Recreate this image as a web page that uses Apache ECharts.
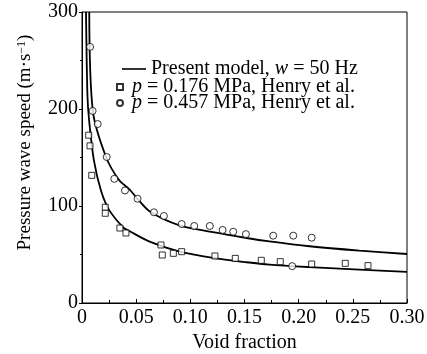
<!DOCTYPE html>
<html>
<head>
<meta charset="utf-8">
<script src="https://cdn.jsdelivr.net/npm/echarts@6/dist/echarts.min.js"></script>
<style>
  html, body { margin: 0; padding: 0; background: #fff; }
  #chart { width: 427px; height: 354px; }
</style>
</head>
<body>
<div id="chart"></div>
<script>
// model curves
const upperX = [0.0067, 0.010, 0.022, 0.034, 0.044, 0.050, 0.063, 0.090, 0.121, 0.152, 0.173, 0.210, 0.256, 0.300];
const upperY = [300, 198, 151, 127, 117, 109, 94, 80, 73, 67, 63.5, 58.5, 54, 50.5];
const lowerX = [0.0037, 0.005, 0.0065, 0.011, 0.0175, 0.025, 0.038, 0.044, 0.063, 0.090, 0.121, 0.152, 0.173, 0.210, 0.256, 0.300];
const lowerY = [300, 215, 189, 147, 116, 96, 78, 74, 63, 53, 46.5, 42, 39.5, 37, 34.5, 32];

// p = 0.176 MPa (squares)
const sqX = [0.0062, 0.0074, 0.009, 0.0215, 0.0215, 0.035, 0.0406, 0.0729, 0.0741, 0.0843, 0.092, 0.1227, 0.1415, 0.1655, 0.183, 0.212, 0.243, 0.264];
const sqY = [173, 162, 131.6, 98.7, 92.5, 77.3, 72.2, 59.8, 49.5, 51.2, 52.9, 48.5, 46, 44, 42.6, 40.2, 40.9, 38.5];

// p = 0.457 MPa (circles)
const ciX = [0.0074, 0.0098, 0.0145, 0.0228, 0.0298, 0.0397, 0.0513, 0.0664, 0.0756, 0.092, 0.1036, 0.118, 0.1298, 0.1396, 0.1513, 0.1765, 0.195, 0.212, 0.194];
const ciY = [264, 198, 184.5, 150.5, 128, 116, 107.5, 93.5, 89.7, 81.4, 79.4, 79.4, 75.3, 73.5, 71, 69.4, 69.4, 67.3, 38];

const xTicks = [0, 0.05, 0.10, 0.15, 0.20, 0.25, 0.30];
const yTicks = [0, 100, 200, 300];

const nameModel = 'Present model';
const nameLow = 'p1';
const nameHigh = 'p2';

const zip = (xs, ys) => xs.map((x, i) => [x, ys[i]]);
const font = 'Liberation Serif';
const legendText = {
  fontFamily: font, fontSize: 20, color: '#000', lineHeight: 15,
  rich: {
    t: { fontFamily: font, fontSize: 20, color: '#000', lineHeight: 15 },
    i: { fontFamily: font, fontSize: 20, color: '#000', lineHeight: 15, fontStyle: 'italic' }
  }
};
const labelFor = n => n === nameModel ? '{t|Present model, }{i|w}{t| = 50 Hz}'
  : n === nameLow ? '{i|p}{t| = 0.176 MPa, Henry et al.}'
  : '{i|p}{t| = 0.457 MPa, Henry et al.}';

const chart = echarts.init(document.getElementById('chart'));
chart.setOption({
  animation: false,
  textStyle: { fontFamily: font, color: '#000' },
  grid: {
    left: 82, right: 20, top: 12, bottom: 51, outerBoundsMode: 'none',
    show: true, borderColor: '#000', borderWidth: 1
  },
  legend: [
    {
      left: 122, top: 59, padding: 0, itemWidth: 24, itemHeight: 8,
      data: [{ name: nameModel, icon: 'path://M0,0H24V1.6H0Z' }],
      formatter: labelFor, textStyle: legendText
    },
    {
      left: 116, top: 77, padding: 0, orient: 'vertical', itemGap: -4, itemWidth: 14, itemHeight: 6,
      data: [
        { name: nameLow, icon: 'path://M0,0H10V10H0Z' },
        { name: nameHigh, icon: 'circle' }
      ],
      formatter: labelFor, textStyle: legendText
    }
  ],
  xAxis: {
    type: 'value', min: 0, max: 0.3, interval: 0.05,
    name: 'Void fraction', nameLocation: 'middle', nameGap: 30,
    nameTextStyle: { fontFamily: font, fontSize: 20, color: '#000' },
    axisLine: { lineStyle: { color: '#000' } },
    axisTick: { inside: true, length: 4, lineStyle: { color: '#000' } },
    minorTick: { show: true, splitNumber: 2, length: 3, lineStyle: { color: '#000' } },
    splitLine: { show: false },
    axisLabel: {
      fontFamily: font, fontSize: 20, color: '#000', margin: 5,
      formatter: v => xTicks.includes(+v.toFixed(2)) ? (v === 0 ? '0' : v.toFixed(2)) : ''
    }
  },
  yAxis: {
    type: 'value', min: 0, max: 300, interval: 100,
    name: '{a|Pressure wave speed (m·s}{s|−1}{a|)}', nameLocation: 'middle', nameGap: 47,
    nameTextStyle: {
      fontFamily: font, fontSize: 19, color: '#000', padding: [0, 0, 0, 30],
      rich: {
        a: { fontFamily: font, fontSize: 19, color: '#000' },
        s: { fontFamily: font, fontSize: 12, color: '#000', verticalAlign: 'top', padding: [0, 0, 7, 0] }
      }
    },
    axisLine: { lineStyle: { color: '#000' } },
    axisTick: { inside: false, length: 3, lineStyle: { color: '#000' } },
    minorTick: { show: true, splitNumber: 2, length: 2, lineStyle: { color: '#000' } },
    splitLine: { show: false },
    axisLabel: {
      fontFamily: font, fontSize: 20, color: '#000', margin: 4,
      formatter: v => yTicks.includes(v) ? String(v) : ''
    }
  },
  series: [
    { name: nameModel, type: 'line', data: zip(upperX, upperY), symbol: 'none', smooth: 0.3,
      lineStyle: { color: '#000', width: 1.8 }, itemStyle: { color: '#000' }, clip: true, z: 3 },
    { name: nameModel, type: 'line', data: zip(lowerX, lowerY), symbol: 'none', smooth: 0.3,
      lineStyle: { color: '#000', width: 1.8 }, itemStyle: { color: '#000' }, clip: true, z: 3 },
    { name: nameLow, type: 'scatter', data: zip(sqX, sqY), symbol: 'rect', symbolSize: 6,
      itemStyle: { color: '#fff', borderColor: '#000', borderWidth: 1 }, z: 4 },
    { name: nameHigh, type: 'scatter', data: zip(ciX, ciY), symbol: 'circle', symbolSize: 7,
      itemStyle: { color: '#fff', borderColor: '#000', borderWidth: 1 }, z: 4 }
  ]
});
</script>
</body>
</html>
